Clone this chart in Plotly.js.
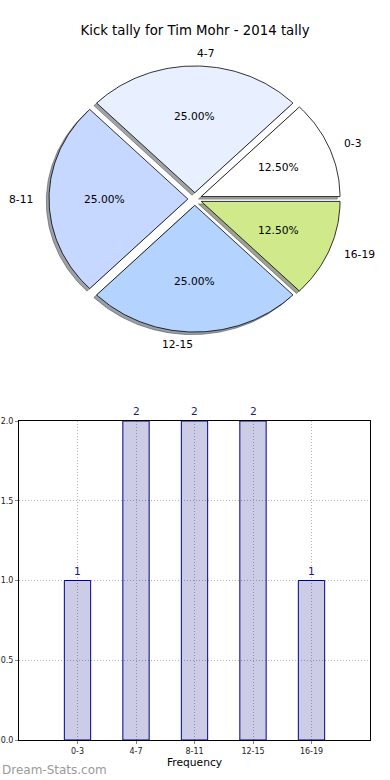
<!DOCTYPE html>
<html>
<head>
<meta charset="utf-8">
<script src="https://cdn.plot.ly/plotly-3.0.1.min.js"></script>
<style>html,body{margin:0;padding:0;background:#fff;}#chart{width:390px;height:780px;}</style>
</head>
<body>
<div id="chart"></div>
<script>
// ---- data ----
const categories = ['0-3', '4-7', '8-11', '12-15', '16-19'];
const counts = [1, 2, 2, 2, 1];
const sliceColors = ['#ffffff', '#e8f0ff', '#c6d8ff', '#b4d4ff', '#cfe98b'];
const titleText = 'Kick tally for Tim Mohr - 2014 tally';
const yTicks = [0, 0.5, 1.0, 1.5, 2.0];
const yTickLabels = ['0.0', '0.5', '1.0', '1.5', '2.0'];

// ---- styling constants ----
const FONT = 'DejaVu Sans, sans-serif';
const explode = 0.05;
const shadowOff = -0.02;
const total = counts.reduce((a, b) => a + b, 0);

function hexToRgb(h) {
  const n = parseInt(h.slice(1), 16);
  return [(n >> 16) & 255, (n >> 8) & 255, n & 255];
}

const shadowTraces = [];
const wedgeTraces = [];
const annotations = [];
let cum = 0;
categories.forEach((cat, i) => {
  const frac = counts[i] / total;
  const t1 = cum * 2 * Math.PI;
  const t2 = (cum + frac) * 2 * Math.PI;
  const tm = (cum + frac / 2) * 2 * Math.PI;
  cum += frac;
  const ox = explode * Math.cos(tm), oy = explode * Math.sin(tm);
  const xs = [ox], ys = [oy];
  const steps = Math.max(8, Math.ceil((t2 - t1) / (Math.PI / 180)));
  for (let k = 0; k <= steps; k++) {
    const a = t1 + (t2 - t1) * k / steps;
    xs.push(ox + Math.cos(a));
    ys.push(oy + Math.sin(a));
  }
  xs.push(ox); ys.push(oy);
  const rgb = hexToRgb(sliceColors[i]);
  const sc = 'rgba(' + rgb.map(v => Math.round(v * 0.3)).join(',') + ',0.5)';
  shadowTraces.push({
    type: 'scatter', mode: 'lines', xaxis: 'x2', yaxis: 'y2',
    x: xs.map(v => v + shadowOff), y: ys.map(v => v + shadowOff),
    fill: 'toself', fillcolor: sc, line: {color: sc, width: 1},
    hoverinfo: 'skip', showlegend: false
  });
  wedgeTraces.push({
    type: 'scatter', mode: 'lines', xaxis: 'x2', yaxis: 'y2',
    x: xs, y: ys, name: cat,
    fill: 'toself', fillcolor: sliceColors[i], line: {color: '#000000', width: 0.8},
    hoverinfo: 'skip', showlegend: false
  });
  // percent label (pctdistance 0.6)
  annotations.push({
    xref: 'x2', yref: 'y2', x: ox + 0.6 * Math.cos(tm), y: oy + 0.6 * Math.sin(tm),
    text: (frac * 100).toFixed(2) + '%', showarrow: false,
    xanchor: 'center', yanchor: 'middle',
    font: {family: FONT, size: 10.7, color: '#000000'}
  });
  // category label (labeldistance 1.1)
  const lx = ox + 1.1 * Math.cos(tm), ly = oy + 1.1 * Math.sin(tm);
  annotations.push({
    xref: 'x2', yref: 'y2', x: lx, y: ly,
    text: cat, showarrow: false,
    xanchor: lx > 0 ? 'left' : 'right', yanchor: 'middle',
    font: {family: FONT, size: 10.7, color: '#000000'}
  });
});

// bar value labels
categories.forEach((cat, i) => {
  annotations.push({
    xref: 'x', yref: 'y', x: cat, y: counts[i], text: String(counts[i]),
    showarrow: false, xanchor: 'center', yanchor: 'bottom', yshift: 1,
    font: {family: FONT, size: 10.7, color: '#1c1c6e'}
  });
});

// watermark
annotations.push({
  xref: 'paper', yref: 'paper', x: 0, y: 1 - 770 / 780, xanchor: 'left', yanchor: 'middle',
  text: 'Dream-Stats.com', showarrow: false,
  font: {family: FONT, size: 12, color: '#9a9a9a'}
});

const barTrace = {
  type: 'bar', x: categories, y: counts, width: 0.45,
  marker: {color: 'rgba(0,0,128,0.2)', line: {color: '#00008b', width: 1}},
  hoverinfo: 'skip', showlegend: false
};

const W = 390, H = 780;
const cx = 194.8, cy = 199, rx = 138.8, ry = 126.7;

const layout = {
  width: W, height: H, autosize: false,
  margin: {l: 0, r: 0, t: 0, b: 0},
  paper_bgcolor: '#ffffff', plot_bgcolor: '#ffffff',
  showlegend: false,
  title: {text: titleText, x: 0.5, xanchor: 'center', y: 1 - 30 / H, yanchor: 'middle',
          font: {family: FONT, size: 13.3, color: '#000000'}},
  xaxis: {
    domain: [19 / W, 370 / W], range: [-1, 5], type: 'category',
    showline: true, mirror: true, linecolor: '#000000', linewidth: 1,
    showgrid: true, gridcolor: '#b4b4b4', griddash: '1px,2px', gridwidth: 1,
    ticks: 'outside', ticklen: 3, tickcolor: '#888888',
    tickfont: {family: FONT, size: 8, color: '#222222'},
    title: {text: 'Frequency', font: {family: FONT, size: 10.7, color: '#000000'}, standoff: 2},
    fixedrange: true, zeroline: false
  },
  yaxis: {
    domain: [(H - 740) / H, (H - 421) / H], range: [0, 2],
    tickvals: yTicks, ticktext: yTickLabels,
    showline: true, mirror: true, linecolor: '#000000', linewidth: 1,
    showgrid: true, gridcolor: '#b4b4b4', griddash: '1px,2px', gridwidth: 1,
    ticks: 'outside', ticklen: 3, tickcolor: '#888888',
    tickfont: {family: FONT, size: 8, color: '#222222'},
    fixedrange: true, zeroline: false
  },
  xaxis2: {
    domain: [0, 1], range: [-cx / rx, (W - cx) / rx], anchor: 'y2',
    visible: false, fixedrange: true
  },
  yaxis2: {
    domain: [(H - 360) / H, (H - 40) / H], range: [-(360 - cy) / ry, (cy - 40) / ry], anchor: 'x2',
    visible: false, fixedrange: true
  },
  annotations: annotations
};

Plotly.newPlot('chart', [barTrace, ...shadowTraces, ...wedgeTraces], layout, {staticPlot: true, displayModeBar: false});
</script>
</body>
</html>
